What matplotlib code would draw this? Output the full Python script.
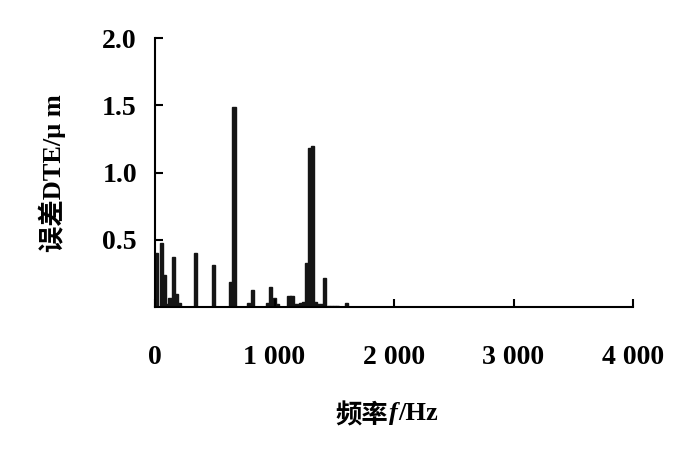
import matplotlib
matplotlib.use("Agg")
import matplotlib.pyplot as plt

fam = ['Liberation Serif', 'Noto Sans CJK SC']
plt.rcParams['font.family'] = fam
plt.rcParams['font.weight'] = 'bold'

# spectrum (frequency in Hz, DTE error in um)
freq = [10, 55, 80, 100, 125, 155, 180, 205,
        340, 490, 635, 660, 785, 815, 940, 965, 1000, 1025,
        1120, 1145, 1170, 1195, 1220, 1245, 1270, 1295, 1320,
        1345, 1370, 1395, 1420, 1450, 1475, 1500, 1525, 1600]
amp = [0.40, 0.48, 0.24, 0.02, 0.07, 0.37, 0.10, 0.03,
       0.40, 0.31, 0.19, 1.485, 0.03, 0.13, 0.03, 0.15, 0.07, 0.02,
       0.08, 0.08, 0.02, 0.02, 0.03, 0.04, 0.33, 1.18, 1.20,
       0.04, 0.02, 0.02, 0.22, 0.01, 0.01, 0.01, 0.01, 0.03]

xticks = [0, 1000, 2000, 3000, 4000]
xticklabels = ['0', '1 000', '2 000', '3 000', '4 000']
yticks = [0.5, 1.0, 1.5, 2.0]
yticklabels = ['0.5', '1.0', '1.5', '2.0']

fig = plt.figure(figsize=(7, 4.49), dpi=100)
ax = fig.add_axes([0.2214, 0.316, 0.683, 0.599])

ax.bar(freq, amp, width=28, color='#151515', edgecolor='#151515', linewidth=1.0)

ax.set_xlim(0, 4000)
ax.set_ylim(0, 2.0)
ax.set_xticks(xticks)
ax.set_xticklabels(xticklabels)
ax.set_yticks(yticks)
ax.set_yticklabels(yticklabels)

for s in ['top', 'right']:
    ax.spines[s].set_visible(False)
for s in ['left', 'bottom']:
    ax.spines[s].set_linewidth(1.5)

ax.tick_params(axis='both', direction='in', length=6, width=1.5, labelsize=20)
ax.tick_params(axis='x', pad=27)
ax.tick_params(axis='y', pad=13)

ax.set_ylabel('误差DTE/μ m', fontsize=19, fontweight='bold', labelpad=26)

# x label: 频率 + italic f + /Hz
yb = 0.065
renderer = fig.canvas.get_renderer()
t1 = fig.text(388 / 700, yb - 0.008, '频率', ha='right', va='baseline',
              fontsize=19, fontweight='bold')
x1 = fig.transFigure.inverted().transform(
    (t1.get_window_extent(renderer).x1, 0))[0]
t2 = fig.text(x1 + 0.002, yb, 'f', ha='left', va='baseline',
              fontsize=19, fontweight='bold', fontstyle='italic')
x2 = fig.transFigure.inverted().transform(
    (t2.get_window_extent(renderer).x1, 0))[0]
fig.text(x2, yb, '/Hz', ha='left', va='baseline',
         fontsize=19, fontweight='bold')

fig.savefig('out.png', dpi=100)
